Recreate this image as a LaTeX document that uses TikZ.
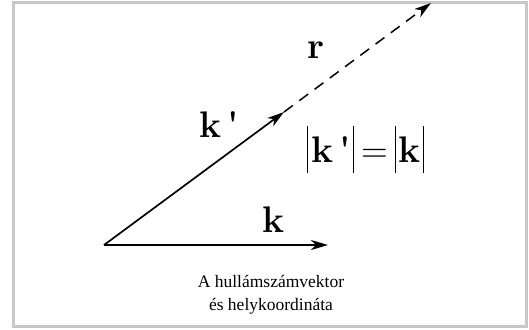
\documentclass[tikz,border=0pt]{standalone}
\usepackage{fontspec}
\newfontfamily\capfont{Liberation Serif}
\usetikzlibrary{arrows.meta, calc, positioning}
\newcommand{\absbar}{\rule[-11pt]{1.1pt}{47pt}}

\begin{document}
\begin{tikzpicture}[
    x=1pt, y=-1pt,
    >={Stealth[length=17pt, width=10pt, inset=5pt]},
    vec/.style  ={->, line width=1.7pt},
    rvec/.style ={->, line width=1.5pt, dash pattern=on 11pt off 8pt},
    lbl/.style  ={font=\fontsize{37}{37}\selectfont\bfseries, inner sep=0pt, anchor=base west},
    note/.style ={font=\capfont\fontsize{17.5}{23}\selectfont, align=center, inner sep=0pt},
    frame/.style={draw=black!22, line width=3pt},
]
\useasboundingbox (0,0) rectangle (529,329);
\draw[frame] (13.5,3) rectangle (526,326);

% --- the vectors, all from one origin ---
\coordinate (O)    at (104,245);
\coordinate (kend) at (328,245);
\coordinate (kp)   at (284,112);
\coordinate (rend) at (431,3);
\draw[vec] (O) -- (kend);
\draw[vec] (O) -- (kp);
\draw[rvec] (kp) -- (rend);

% --- labels ---
\node[lbl] (klbl)  at (262,232) {k};
\node[lbl] (kplbl) at (199,137) {k\,\textquotesingle};
\node[lbl, font=\fontsize{37}{37}\selectfont] (eq) at (307,162)
     {\absbar\kern3pt\textbf{k\,\textquotesingle}\kern2pt\absbar\kern7pt=\kern7pt\absbar\kern3pt\textbf{k}\kern2pt\absbar};
\node[lbl] (rlbl)  at (307,58)  {r};
\node[note] (cap) at (271,295) {A hullámszámvektor\\és helykoordináta};
\end{tikzpicture}
\end{document}
